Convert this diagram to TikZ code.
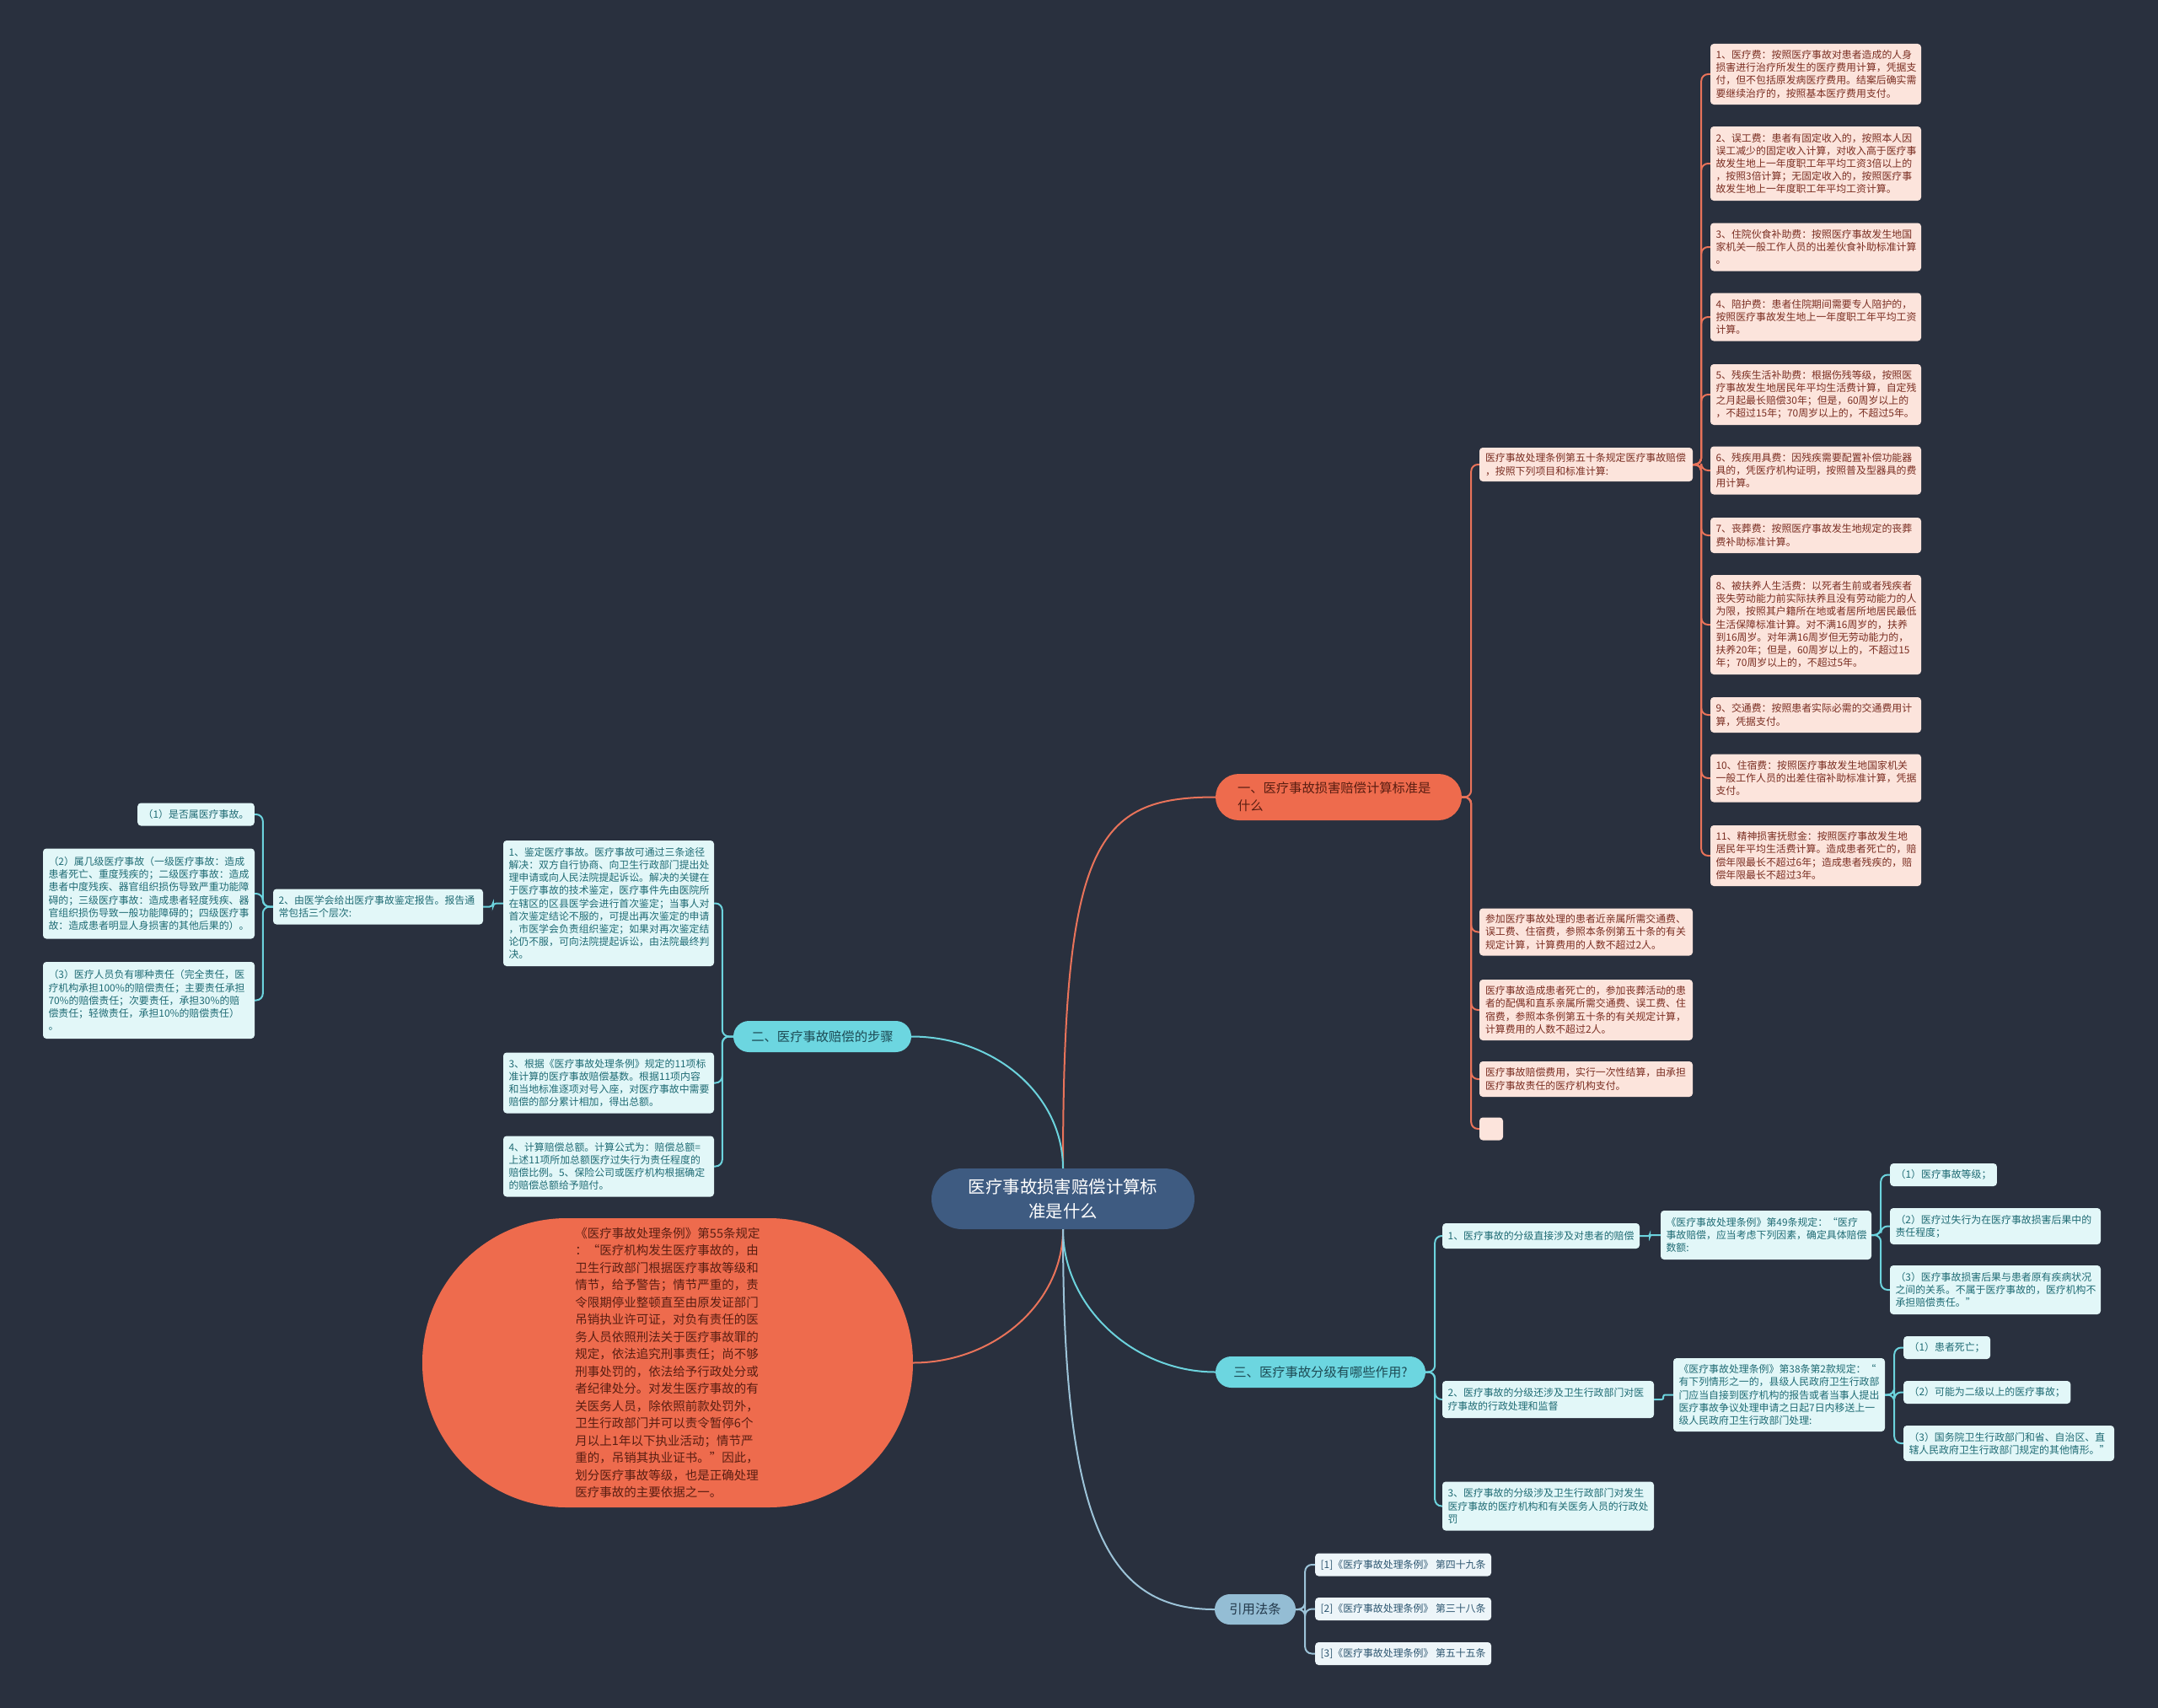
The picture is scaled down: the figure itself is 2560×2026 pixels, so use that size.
\documentclass[tikz,border=0pt]{standalone}
\usepackage{fontspec}
\setmainfont{Noto Sans CJK SC}
\definecolor{bg}{HTML}{29303E}
\definecolor{rootfill}{HTML}{3E5B81}
\definecolor{coral}{HTML}{EE6B4D}
\definecolor{coralline}{HTML}{E9735A}
\definecolor{coraltext}{HTML}{5A1E12}
\definecolor{pinkfill}{HTML}{FCE4DC}
\definecolor{pinktext}{HTML}{7A2E22}
\definecolor{cyanfill}{HTML}{6CD6E0}
\definecolor{cyantext}{HTML}{1D4B55}
\definecolor{cyanline}{HTML}{6CD3DD}
\definecolor{cleaffill}{HTML}{E2F7F8}
\definecolor{cleaftext}{HTML}{1F6B74}
\definecolor{bluefill}{HTML}{94BDD4}
\definecolor{bluetext}{HTML}{22384A}
\definecolor{blueline}{HTML}{9CC3D8}
\definecolor{bleaffill}{HTML}{EDF5F9}
\definecolor{bleaftext}{HTML}{2D5670}
\tikzset{
  leafbase/.style={rounded corners=4, inner xsep=6.5, inner ysep=3, align=left,
    font=\fontsize{11.9}{15.2}\selectfont},
  fixw/.style={text width=#1},
  pinkleaf/.style={leafbase, fill=pinkfill, text=pinktext},
  cleaf/.style={leafbase, fill=cleaffill, text=cleaftext},
  bleaf/.style={leafbase, fill=bleaffill, text=bleaftext},
  rootnode/.style={fill=rootfill, text=white, rounded corners=36, align=center,
    inner sep=0, font=\fontsize{20.4}{29}\selectfont},
  bonenode/.style={fill=coral, text=coraltext, rounded corners=27.5, align=left,
    inner ysep=0, font=\fontsize{15.3}{21}\selectfont},
  btwonode/.style={fill=cyanfill, text=cyantext, rounded corners=18.5, align=center,
    inner sep=0, font=\fontsize{15.3}{21}\selectfont},
  refnode/.style={fill=bluefill, text=bluetext, rounded corners=18, align=center,
    inner sep=0, font=\fontsize{15.3}{21}\selectfont},
  bignode/.style={fill=coral, text=coraltext, rounded corners=171, align=left,
    inner sep=0, font=\fontsize{14.5}{20.5}\selectfont},
  cl/.style={draw=coralline, line width=2},
  cy/.style={draw=cyanline, line width=2},
  bl/.style={draw=blueline, line width=2},
  tr/.style={rounded corners=8},
}
\begin{document}
\begin{tikzpicture}[x=1pt,y=-1pt]
\fill[bg] (0,0) rectangle (2560,2026);
\useasboundingbox (0,0) rectangle (2560,2026);

% root and main branches
\node[rootnode, minimum width=312, minimum height=72] (root) at (1261,1422) {医疗事故损害赔偿计算标\\准是什么};
\node[bonenode, text width=240, inner xsep=26, minimum height=55] (b1) at (1588,945.5) {一、医疗事故损害赔偿计算标准是\\什么};
\node[btwonode, minimum width=211, minimum height=37] (b2) at (975.5,1229.5) {二、医疗事故赔偿的步骤};
\node[btwonode, minimum width=249, minimum height=37] (b3) at (1566.5,1627.5) {三、医疗事故分级有哪些作用?};
\node[refnode, minimum width=96, minimum height=36] (b4) at (1489,1909) {引用法条};
\node[bignode, minimum width=582, minimum height=343] (big) at (792,1616.5) {《医疗事故处理条例》第55条规定\\：“医疗机构发生医疗事故的，由\\卫生行政部门根据医疗事故等级和\\情节，给予警告；情节严重的，责\\令限期停业整顿直至由原发证部门\\吊销执业许可证，对负有责任的医\\务人员依照刑法关于医疗事故罪的\\规定，依法追究刑事责任；尚不够\\刑事处罚的，依法给予行政处分或\\者纪律处分。对发生医疗事故的有\\关医务人员，除依照前款处罚外，\\卫生行政部门并可以责令暂停6个\\月以上1年以下执业活动；情节严\\重的，吊销其执业证书。”因此，\\划分医疗事故等级，也是正确处理\\医疗事故的主要依据之一。};

% branch 1 children
\node[pinkleaf, fixw=239, inner xsep=7, minimum height=40] (a1) at (1881.5,551) {医疗事故处理条例第五十条规定医疗事故赔偿\\，按照下列项目和标准计算:};
\node[pinkleaf, fixw=239, inner xsep=7, minimum height=56] (a2) at (1881.5,1105.5) {参加医疗事故处理的患者近亲属所需交通费、\\误工费、住宿费，参照本条例第五十条的有关\\规定计算，计算费用的人数不超过2人。};
\node[pinkleaf, fixw=239, inner xsep=7, minimum height=72] (a3) at (1881.5,1198) {医疗事故造成患者死亡的，参加丧葬活动的患\\者的配偶和直系亲属所需交通费、误工费、住\\宿费，参照本条例第五十条的有关规定计算，\\计算费用的人数不超过2人。};
\node[pinkleaf, fixw=239, inner xsep=7, minimum height=42] (a4) at (1881.5,1280) {医疗事故赔偿费用，实行一次性结算，由承担\\医疗事故责任的医疗机构支付。};
\node[pinkleaf, inner sep=0, minimum width=28, minimum height=27] (a5) at (1769,1339) {};

% eleven items
\node[pinkleaf, fixw=237, minimum height=72] (p1) at (2154,88) {1、医疗费：按照医疗事故对患者造成的人身\\损害进行治疗所发生的医疗费用计算，凭据支\\付，但不包括原发病医疗费用。结案后确实需\\要继续治疗的，按照基本医疗费用支付。};
\node[pinkleaf, fixw=237, minimum height=88] (p2) at (2154,194) {2、误工费：患者有固定收入的，按照本人因\\误工减少的固定收入计算，对收入高于医疗事\\故发生地上一年度职工年平均工资3倍以上的\\，按照3倍计算；无固定收入的，按照医疗事\\故发生地上一年度职工年平均工资计算。};
\node[pinkleaf, fixw=237, minimum height=57] (p3) at (2154,293) {3、住院伙食补助费：按照医疗事故发生地国\\家机关一般工作人员的出差伙食补助标准计算\\。};
\node[pinkleaf, fixw=237, minimum height=57] (p4) at (2154,376) {4、陪护费：患者住院期间需要专人陪护的，\\按照医疗事故发生地上一年度职工年平均工资\\计算。};
\node[pinkleaf, fixw=237, minimum height=72] (p5) at (2154,468) {5、残疾生活补助费：根据伤残等级，按照医\\疗事故发生地居民年平均生活费计算，自定残\\之月起最长赔偿30年；但是，60周岁以上的\\，不超过15年；70周岁以上的，不超过5年。};
\node[pinkleaf, fixw=237, minimum height=57] (p6) at (2154,558) {6、残疾用具费：因残疾需要配置补偿功能器\\具的，凭医疗机构证明，按照普及型器具的费\\用计算。};
\node[pinkleaf, fixw=237, minimum height=42] (p7) at (2154,635) {7、丧葬费：按照医疗事故发生地规定的丧葬\\费补助标准计算。};
\node[pinkleaf, fixw=237, minimum height=118] (p8) at (2154,741) {8、被扶养人生活费：以死者生前或者残疾者\\丧失劳动能力前实际扶养且没有劳动能力的人\\为限，按照其户籍所在地或者居所地居民最低\\生活保障标准计算。对不满16周岁的，扶养\\到16周岁。对年满16周岁但无劳动能力的，\\扶养20年；但是，60周岁以上的，不超过15\\年；70周岁以上的，不超过5年。};
\node[pinkleaf, fixw=237, minimum height=42] (p9) at (2154,848) {9、交通费：按照患者实际必需的交通费用计\\算，凭据支付。};
\node[pinkleaf, fixw=237, minimum height=57] (p10) at (2154,923) {10、住宿费：按照医疗事故发生地国家机关\\一般工作人员的出差住宿补助标准计算，凭据\\支付。};
\node[pinkleaf, fixw=237, minimum height=72] (p11) at (2154,1015) {11、精神损害抚慰金：按照医疗事故发生地\\居民年平均生活费计算。造成患者死亡的，赔\\偿年限最长不超过6年；造成患者残疾的，赔\\偿年限最长不超过3年。};

% branch 2
\node[cleaf, fixw=237, minimum height=149] (s1) at (722,1071.5) {1、鉴定医疗事故。医疗事故可通过三条途径\\解决：双方自行协商、向卫生行政部门提出处\\理申请或向人民法院提起诉讼。解决的关键在\\于医疗事故的技术鉴定，医疗事件先由医院所\\在辖区的区县医学会进行首次鉴定；当事人对\\首次鉴定结论不服的，可提出再次鉴定的申请\\，市医学会负责组织鉴定；如果对再次鉴定结\\论仍不服，可向法院提起诉讼，由法院最终判\\决。};
\node[cleaf, fixw=237, minimum height=72] (s3) at (722,1284.5) {3、根据《医疗事故处理条例》规定的11项标\\准计算的医疗事故赔偿基数。根据11项内容\\和当地标准逐项对号入座，对医疗事故中需要\\赔偿的部分累计相加，得出总额。};
\node[cleaf, fixw=237, minimum height=72] (s4) at (722,1383.5) {4、计算赔偿总额。计算公式为：赔偿总额=\\上述11项所加总额医疗过失行为责任程度的\\赔偿比例。5、保险公司或医疗机构根据确定\\的赔偿总额给予赔付。};
\node[cleaf, fixw=236, minimum height=42] (s2) at (448.5,1075.5) {2、由医学会给出医疗事故鉴定报告。报告通\\常包括三个层次:};
\node[cleaf, anchor=east, minimum height=27] (q1) at (302,966) {（1）是否属医疗事故。};
\node[cleaf, fixw=238, minimum height=107] (q2) at (176.5,1060) {（2）属几级医疗事故（一级医疗事故：造成\\患者死亡、重度残疾的；二级医疗事故：造成\\患者中度残疾、器官组织损伤导致严重功能障\\碍的；三级医疗事故：造成患者轻度残疾、器\\官组织损伤导致一般功能障碍的；四级医疗事\\故：造成患者明显人身损害的其他后果的）。};
\node[cleaf, fixw=238, minimum height=91] (q3) at (176.5,1186.5) {（3）医疗人员负有哪种责任（完全责任，医\\疗机构承担100\%的赔偿责任；主要责任承担\\70\%的赔偿责任；次要责任，承担30\%的赔\\偿责任；轻微责任，承担10\%的赔偿责任）\\。};

% branch 3
\node[cleaf, anchor=west, minimum height=30] (t1) at (1711,1466) {1、医疗事故的分级直接涉及对患者的赔偿};
\node[cleaf, fixw=238, minimum height=44] (t2) at (1836.5,1660) {2、医疗事故的分级还涉及卫生行政部门对医\\疗事故的行政处理和监督};
\node[cleaf, fixw=238, minimum height=58] (t3) at (1836.5,1786.5) {3、医疗事故的分级涉及卫生行政部门对发生\\医疗事故的医疗机构和有关医务人员的行政处\\罚};
\node[cleaf, fixw=237, minimum height=58] (u) at (2095,1465) {《医疗事故处理条例》第49条规定：“医疗\\事故赔偿，应当考虑下列因素，确定具体赔偿\\数额:};
\node[cleaf, anchor=west, minimum height=27] (u1) at (2242,1393.5) {（1）医疗事故等级；};
\node[cleaf, fixw=237, minimum height=43] (u2) at (2367,1454.5) {（2）医疗过失行为在医疗事故损害后果中的\\责任程度；};
\node[cleaf, fixw=237, minimum height=58] (u3) at (2367,1530) {（3）医疗事故损害后果与患者原有疾病状况\\之间的关系。不属于医疗事故的，医疗机构不\\承担赔偿责任。”};
\node[cleaf, fixw=238, minimum height=87] (v) at (2110.5,1654.5) {《医疗事故处理条例》第38条第2款规定：“\\有下列情形之一的，县级人民政府卫生行政部\\门应当自接到医疗机构的报告或者当事人提出\\医疗事故争议处理申请之日起7日内移送上一\\级人民政府卫生行政部门处理:};
\node[cleaf, anchor=west, minimum height=27] (v1) at (2258,1598.5) {（1）患者死亡；};
\node[cleaf, anchor=west, minimum height=27] (v2) at (2258,1651.5) {（2）可能为二级以上的医疗事故；};
\node[cleaf, fixw=237, minimum height=42] (v3) at (2383,1712) {（3）国务院卫生行政部门和省、自治区、直\\辖人民政府卫生行政部门规定的其他情形。”};

% references
\node[bleaf, anchor=west, minimum height=27] (r1) at (1560,1856) {[1]《医疗事故处理条例》 第四十九条};
\node[bleaf, anchor=west, minimum height=27] (r2) at (1560,1908.5) {[2]《医疗事故处理条例》 第三十八条};
\node[bleaf, anchor=west, minimum height=27] (r3) at (1560,1961.5) {[3]《医疗事故处理条例》 第五十五条};

% main curves
\draw[cl] (root.north) .. controls (1261,1000) and (1300,945.5) .. (b1.west);
\draw[cy] (root.north) .. controls (1261,1299) and (1180,1229.5) .. (b2.east);
\draw[cl] (root.south) .. controls (1261,1545) and (1180,1616.5) .. (big.east);
\draw[cy] (root.south) .. controls (1261,1550) and (1345,1627.5) .. (b3.west);
\draw[bl] (root.south) .. controls (1261,1800) and (1310,1909) .. (b4.west);

% branch 1 tree
\foreach \n in {a1,a2,a3,a4,a5} \draw[cl,tr] (b1.east) -- ++(11,0) |- (\n.west);
\foreach \n in {p1,p2,p3,p4,p5,p6,p7,p8,p9,p10,p11} \draw[cl,tr] (a1.east) -- ++(10,0) |- (\n.west);

% branch 2 tree
\foreach \n in {s1,s3,s4} \draw[cy,tr] (b2.west) -- ++(-13,0) |- (\n.east);
\draw[cy,rounded corners=4] (s1.west) -- ++(-12,0) |- (s2.east);
\foreach \n in {q1,q2,q3} \draw[cy,tr] (s2.west) -- ++(-12,0) |- (\n.east);

% branch 3 tree
\foreach \n in {t1,t2,t3} \draw[cy,tr] (b3.east) -- ++(11,0) |- (\n.west);
\draw[cy,rounded corners=2] (t1.east) -- ++(12,0) |- (u.west);
\foreach \n in {u1,u2,u3} \draw[cy,tr] (u.east) -- ++(11,0) |- (\n.west);
\draw[cy,rounded corners=2] (t2.east) -- ++(11,0) |- (v.west);
\foreach \n in {v1,v2,v3} \draw[cy,tr] (v.east) -- ++(11,0) |- (\n.west);

% references tree
\foreach \n in {r1,r2,r3} \draw[bl,tr] (b4.east) -- ++(11,0) |- (\n.west);
\end{tikzpicture}
\end{document}
